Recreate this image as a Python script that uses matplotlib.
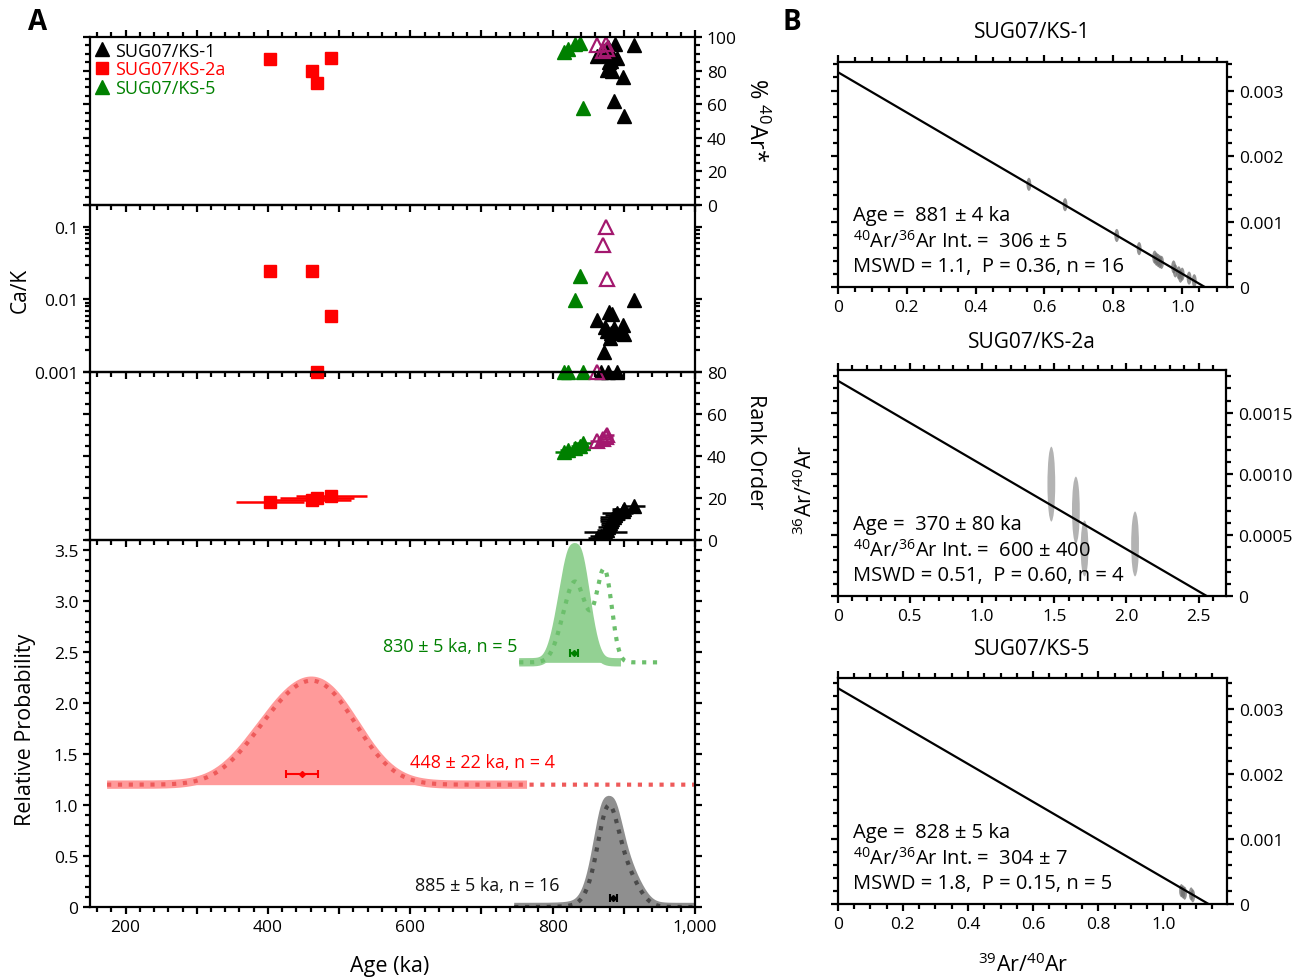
import numpy as np
import matplotlib
matplotlib.use('Agg')
import matplotlib.pyplot as plt
from matplotlib.patches import Ellipse
from matplotlib.ticker import MultipleLocator, FuncFormatter, LogLocator, NullFormatter

plt.rcParams['font.family'] = ['Open Sans', 'DejaVu Sans']
plt.rcParams['mathtext.fontset'] = 'custom'
plt.rcParams['mathtext.rm'] = 'Open Sans'
plt.rcParams['mathtext.it'] = 'Open Sans:italic'
plt.rcParams['mathtext.bf'] = 'Open Sans:bold'

# single-crystal results, SUG07/KS-1
ks1_age = [863, 868, 872, 874, 876, 878, 879, 880, 882, 884, 886, 887, 891, 899, 900, 915]
ks1_err = [14, 16, 12, 30, 13, 14, 11, 12, 15, 17, 20, 14, 22, 16, 17, 15]
ks1_rad = [88.5, 89, 90.5, 92, 80.5, 94, 85, 91, 86, 79.5, 62, 96, 87.5, 76, 53, 95.5]
ks1_cak = [0.0052, 0.001, 0.0019, 0.0042, 0.0037, 0.001, 0.0067, 0.0029,
           0.0035, 0.0062, 0.0040, 0.0035, 0.001, 0.0045, 0.0033, 0.0097]
ks1_rank = [1, 2, 3, 4, 5, 6, 7, 8, 9, 10, 11, 12, 13, 14, 15, 16]

# SUG07/KS-2a
ks2_age = [403, 462, 469, 489]
ks2_err = [48, 55, 52, 50]
ks2_rad = [86.7, 80.0, 72.7, 87.6]
ks2_cak = [0.0244, 0.0246, 0.001, 0.006]
ks2_rank = [18, 19, 20, 21]

# SUG07/KS-5 (included)
ks5_age = [816, 822, 832, 838, 842]
ks5_err = [13, 12, 11, 12, 13]
ks5_rad = [91, 93, 96, 96.5, 58]
ks5_cak = [0.001, 0.001, 0.0099, 0.021, 0.001]
ks5_rank = [42, 43, 44, 45, 46]

# SUG07/KS-5 (excluded, open symbols)
ks5x_age = [862, 871, 875, 877]
ks5x_err = [10, 9, 10, 9]
ks5x_rad = [95.5, 91.5, 96, 93]
ks5x_cak = [0.001, 0.057, 0.1, 0.019]
ks5x_rank = [47, 48, 49, 50]

# weighted means
mean_age = [885, 448, 830]
mean_err = [5, 22, 5]

# isochrons: 39Ar/40Ar, 36Ar/40Ar
iso1_x = [0.555, 0.66, 0.81, 0.875, 0.92, 0.925, 0.93, 0.935, 0.94, 0.975,
          0.98, 0.99, 0.995, 1.0, 1.02, 1.035]
iso1_y = [0.00157, 0.00126, 0.00079, 0.00059, 0.00046, 0.00043, 0.00041, 0.00039,
          0.00038, 0.00031, 0.00025, 0.00022, 0.00017, 0.00020, 0.00014, 0.00010]
iso2_x = [1.48, 1.65, 1.71, 2.06]
iso2_y = [0.000917, 0.000705, 0.000391, 0.000428]
iso2_ey = [0.000306, 0.000273, 0.000228, 0.000265]
iso3_x = [1.055, 1.06, 1.065, 1.085, 1.09]
iso3_y = [0.00021, 0.00019, 0.00017, 0.00016, 0.00013]
iso_y0 = [0.003282, 0.001763, 0.00332]
iso_x0 = [1.067, 2.56, 1.14]
iso_age = ['881 ± 4', '370 ± 80', '828 ± 5']
iso_int = ['306 ± 5', '600 ± 400', '304 ± 7']
iso_stat = ['MSWD = 1.1,  P = 0.36, n = 16', 'MSWD = 0.51,  P = 0.60, n = 4',
            'MSWD = 1.8,  P = 0.15, n = 5']
iso_names = ['SUG07/KS-1', 'SUG07/KS-2a', 'SUG07/KS-5']

W, H = 1307, 979
fig = plt.figure(figsize=(W / 100, H / 100), dpi=100)


def px_axes(x0, y0, x1, y1):
    return fig.add_axes([x0 / W, 1 - y1 / H, (x1 - x0) / W, (y1 - y0) / H])


def style(ax):
    for s in ax.spines.values():
        s.set_linewidth(1.6)
    ax.tick_params(which='both', direction='out', width=1.6, labelsize=12.5)
    ax.tick_params(which='major', length=5)
    ax.tick_params(which='minor', length=3.5)
    ax.set_facecolor('none')


BLACK, RED, GREEN, MAG = 'black', '#ff0000', '#008000', '#a3186e'

ax1 = px_axes(90, 38, 695, 206)
ax2 = px_axes(90, 206, 695, 373)
ax3 = px_axes(90, 373, 695, 541)
ax4 = px_axes(90, 541, 695, 908)

for ax in (ax1, ax2, ax3, ax4):
    style(ax)
    ax.set_xlim(150, 1000)
    ax.xaxis.set_major_locator(MultipleLocator(100))
    ax.xaxis.set_minor_locator(MultipleLocator(20))
    ax.tick_params(axis='x', labelbottom=False)
    ax.tick_params(axis='y', left=True, right=True, which='both')

ax1.tick_params(axis='x', top=True, which='both')
ax4.tick_params(axis='x', labelbottom=True)
ax4.xaxis.set_major_formatter(FuncFormatter(
    lambda v, p: (f'{int(v):,}' if int(v) % 200 == 0 else '')))

# % 40Ar*
kw_tri = dict(marker='^', ms=10.5, ls='none', clip_on=False)
ax1.plot(ks1_age, ks1_rad, color=BLACK, label='SUG07/KS-1', **kw_tri)
ax1.plot(ks2_age, ks2_rad, color=RED, marker='s', ms=9, ls='none', label='SUG07/KS-2a')
ax1.plot(ks5_age, ks5_rad, color=GREEN, label='SUG07/KS-5', **kw_tri)
ax1.plot(ks5x_age, ks5x_rad, color=MAG, mfc='none', mew=1.6, **kw_tri)
ax1.set_ylim(0, 100)
ax1.yaxis.set_major_locator(MultipleLocator(20))
ax1.yaxis.set_minor_locator(MultipleLocator(5))
ax1.tick_params(axis='y', labelleft=False, labelright=True)
ax1.legend(loc='upper left', frameon=False, handlelength=0.8, handletextpad=0.35,
           labelspacing=0.05, borderaxespad=0.15, borderpad=0.1, fontsize=13,
           labelcolor='linecolor')

# Ca/K
ax2.set_yscale('log')
ax2.plot(ks1_age, ks1_cak, color=BLACK, **kw_tri)
ax2.plot(ks2_age, ks2_cak, color=RED, marker='s', ms=9, ls='none', clip_on=False)
ax2.plot(ks5_age, ks5_cak, color=GREEN, **kw_tri)
ax2.plot(ks5x_age, ks5x_cak, color=MAG, mfc='none', mew=1.6, **kw_tri)
ax2.set_ylim(0.001, 0.2)
ax2.yaxis.set_major_locator(LogLocator(base=10, numticks=5))
ax2.yaxis.set_minor_locator(LogLocator(base=10, subs=np.arange(2, 10), numticks=20))
ax2.yaxis.set_minor_formatter(NullFormatter())
ax2.yaxis.set_major_formatter(FuncFormatter(lambda v, p: f'{v:g}'))

# rank order
ax3.errorbar(ks1_age, ks1_rank, xerr=ks1_err, color=BLACK, marker='^', ms=10.5, ls='none',
             elinewidth=1.8)
ax3.errorbar(ks2_age, ks2_rank, xerr=ks2_err, color=RED, marker='s', ms=9, ls='none',
             elinewidth=1.8)
ax3.errorbar(ks5_age, ks5_rank, xerr=ks5_err, color=GREEN, marker='^', ms=10.5, ls='none',
             elinewidth=1.8)
ax3.errorbar(ks5x_age, ks5x_rank, xerr=ks5x_err, color=MAG, marker='^', ms=10.5, mfc='none',
             mew=1.6, ls='none', elinewidth=1.8)
ax3.set_ylim(0, 80)
ax3.yaxis.set_major_locator(MultipleLocator(20))
ax3.yaxis.set_minor_locator(MultipleLocator(5))
ax3.tick_params(axis='y', labelleft=False, labelright=True)

# probability curves
offsets = [0, 1.2, 2.4]
fill_peak = [1.05, 1.02, 1.13]
dot_peak = [1.0, 1.02, 0.92]
band = [(746, 1000), (174, 764), (753, 896)]
dot_end = [1000, 1000, 954]
fill_col = ['#8f8f8f', '#ff9a9a', '#93d193']
dot_col = ['#4a4a4a', '#ee5a5a', '#6cbf6c']
text_col = ['#111111', RED, GREEN]
bar_col = [BLACK, RED, GREEN]
bar_y = [0.085, 1.30, 2.49]
fill_sets = [(ks1_age, ks1_err), (ks2_age, ks2_err), (ks5_age, ks5_err)]
dot_sets = [(ks1_age, ks1_err), (ks2_age, ks2_err),
            (ks5_age + ks5x_age, ks5_err + ks5x_err)]


def prob(x, ages, errs):
    a = np.asarray(ages, float)[:, None]
    s = np.asarray(errs, float)[:, None]
    return (np.exp(-0.5 * ((x - a) / s) ** 2) / s).sum(axis=0)


for i in range(3):
    xf = np.linspace(band[i][0], band[i][1], 600)
    pf = prob(xf, *fill_sets[i])
    pf = pf / pf.max() * fill_peak[i]
    ax4.fill_between(xf, offsets[i], offsets[i] + pf, color=fill_col[i], lw=0, zorder=1)
    ax4.plot(xf, offsets[i] + pf, color=fill_col[i], lw=6, solid_capstyle='butt', zorder=1)
    xd = np.linspace(band[i][0], dot_end[i], 600)
    pd_ = prob(xd, *dot_sets[i])
    pd_ = pd_ / pd_.max() * dot_peak[i]
    ax4.plot(xd, offsets[i] + pd_, color=dot_col[i], lw=3, ls=(0, (1, 1.6)), zorder=2)
    ax4.errorbar([mean_age[i]], [bar_y[i]], xerr=[mean_err[i]], color=bar_col[i],
                 marker='D', ms=3, capsize=3, elinewidth=1.5, capthick=1.5, zorder=3)

ax4.text(809, 0.216, '885 ± 5 ka, n = 16', color=text_col[0], fontsize=13,
         ha='right', va='center')
ax4.text(599, 1.42, '448 ± 22 ka, n = 4', color=text_col[1], fontsize=13,
         ha='left', va='center')
ax4.text(751, 2.56, '830 ± 5 ka, n = 5', color=text_col[2], fontsize=13,
         ha='right', va='center')
ax4.set_ylim(0, 3.6)
ax4.yaxis.set_major_locator(MultipleLocator(0.5))
ax4.yaxis.set_minor_locator(MultipleLocator(0.1))
ax4.yaxis.set_major_formatter(FuncFormatter(lambda v, p: '0' if v == 0 else f'{v:.1f}'))

fig.text(38 / W, 1 - 22 / H, 'A', fontsize=20, fontweight='bold', ha='center', va='center')
fig.text(792 / W, 1 - 22 / H, 'B', fontsize=20, fontweight='bold', ha='center', va='center')
fig.text(390 / W, 1 - 967 / H, 'Age (ka)', fontsize=15.5, ha='center', va='center')
fig.text(26 / W, 1 - 730 / H, 'Relative Probability', fontsize=15.5, rotation=90,
         ha='center', va='center')
fig.text(20 / W, 1 - 290 / H, 'Ca/K', fontsize=15, rotation=90, ha='center', va='center')
fig.text(756 / W, 1 - 120 / H, r'% $\mathregular{^{40}}$Ar*', fontsize=17, rotation=270,
         ha='center', va='center')
fig.text(756 / W, 1 - 452 / H, 'Rank Order', fontsize=15.5, rotation=270,
         ha='center', va='center')

# isochron panels
boxes = [(837.7, 62.7, 1227, 288.3), (837.7, 371, 1226, 597.3), (837.7, 679.3, 1227, 905.3)]
xlims = [1.13, 2.69, 1.195]
ylims = [0.00344, 0.00185, 0.00347]
xmaj = [0.2, 0.5, 0.2]
xmin_ = [0.05, 0.1, 0.05]
ymaj = [0.001, 0.0005, 0.001]
ymin_ = [0.0002, 0.0001, 0.0002]
yfmt = ['{:.3f}', '{:.4f}', '{:.3f}']
title_y = [33, 342, 650]
pts = [(iso1_x, iso1_y, [0.007] * 16, [0.0001] * 16),
       (iso2_x, iso2_y, [0.027] * 4, iso2_ey),
       (iso3_x, iso3_y, [0.007] * 5, [0.0001] * 5)]

for i in range(3):
    ax = px_axes(*boxes[i])
    style(ax)
    ax.set_xlim(0, xlims[i])
    ax.set_ylim(0, ylims[i])
    ax.xaxis.set_major_locator(MultipleLocator(xmaj[i]))
    ax.xaxis.set_minor_locator(MultipleLocator(xmin_[i]))
    ax.yaxis.set_major_locator(MultipleLocator(ymaj[i]))
    ax.yaxis.set_minor_locator(MultipleLocator(ymin_[i]))
    ax.tick_params(which='both', top=True, right=True, left=True, bottom=True)
    ax.tick_params(axis='y', labelleft=False, labelright=True)
    ax.xaxis.set_major_formatter(FuncFormatter(lambda v, p: '0' if abs(v) < 1e-9 else f'{v:.1f}'))
    ax.yaxis.set_major_formatter(FuncFormatter(
        lambda v, p, f=yfmt[i]: '0' if abs(v) < 1e-12 else f.format(v)))
    xs, ys, exs, eys = pts[i]
    ecol = '#9a9a9a' if i == 1 else '#6e6e6e'
    for x, y, ex, ey in zip(xs, ys, exs, eys):
        ax.add_patch(Ellipse((x, y), 2 * ex, 2 * ey, facecolor=ecol, edgecolor='none',
                             alpha=0.75, zorder=2))
    ax.plot([0, iso_x0[i]], [iso_y0[i], 0], color='black', lw=1.6, zorder=3)
    ax.text(0.04, 0.32, f'Age =  {iso_age[i]} ka', transform=ax.transAxes, fontsize=14.5,
            va='center')
    ax.text(0.04, 0.205, r'$\mathregular{^{40}}$Ar/$\mathregular{^{36}}$Ar Int. =  ' + iso_int[i],
            transform=ax.transAxes, fontsize=14.5, va='center')
    ax.text(0.04, 0.094, iso_stat[i], transform=ax.transAxes, fontsize=14.5, va='center')
    fig.text(1032 / W, 1 - title_y[i] / H, iso_names[i], fontsize=15, ha='center', va='center')

fig.text(805 / W, 1 - 490 / H, r'$\mathregular{^{36}}$Ar/$\mathregular{^{40}}$Ar', fontsize=15.5,
         rotation=90, ha='center', va='center')
fig.text(1023 / W, 1 - 965 / H, r'$\mathregular{^{39}}$Ar/$\mathregular{^{40}}$Ar', fontsize=15.5,
         ha='center', va='center')

fig.savefig('out.png', dpi=100)
